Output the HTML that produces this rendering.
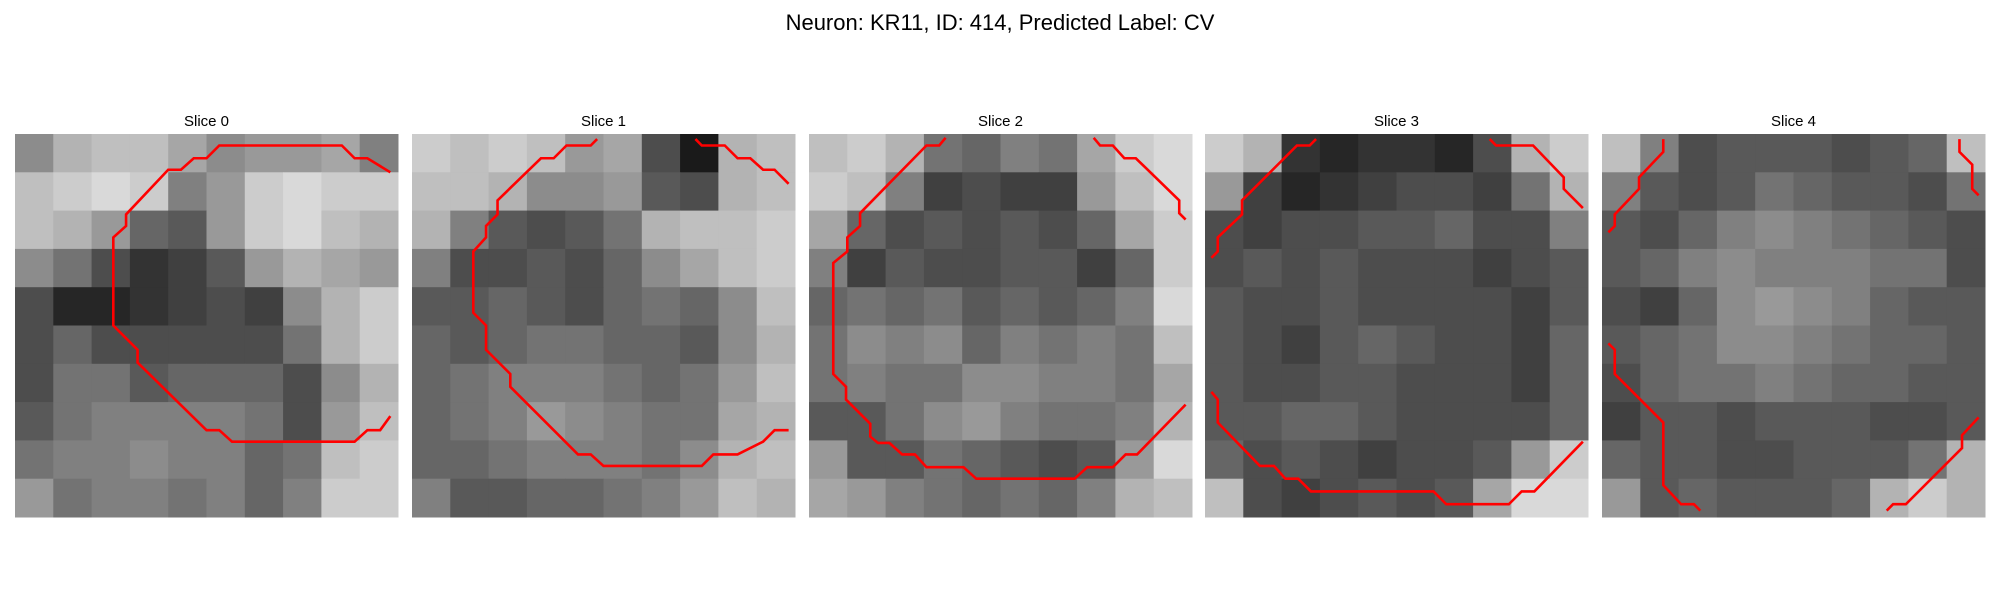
<!DOCTYPE html>
<html><head><meta charset="utf-8"><style>
html,body{margin:0;padding:0;background:#fff;}
svg{display:block;font-family:"Liberation Sans","DejaVu Sans",sans-serif;}
</style></head><body>
<svg id="fig" width="2000" height="600" viewBox="0 0 2000 600">
<text x="1000" y="30" text-anchor="middle" font-size="22" fill="#000">Neuron: KR11, ID: 414, Predicted Label: CV</text>
</svg>
<script>
const sliceTitles = ["Slice 0","Slice 1","Slice 2","Slice 3","Slice 4"];
const tones0 = [
[0.55,0.7,0.75,0.75,0.65,0.55,0.6,0.6,0.65,0.5],
[0.75,0.8,0.85,0.8,0.5,0.6,0.8,0.85,0.8,0.8],
[0.75,0.7,0.6,0.4,0.35,0.6,0.8,0.85,0.75,0.7],
[0.55,0.45,0.3,0.2,0.25,0.35,0.6,0.7,0.65,0.6],
[0.3,0.15,0.15,0.2,0.25,0.3,0.25,0.55,0.7,0.8],
[0.3,0.4,0.3,0.3,0.3,0.3,0.3,0.45,0.7,0.8],
[0.3,0.45,0.45,0.35,0.4,0.4,0.4,0.3,0.55,0.7],
[0.35,0.45,0.5,0.5,0.5,0.5,0.45,0.3,0.6,0.75],
[0.45,0.5,0.5,0.55,0.5,0.5,0.4,0.45,0.75,0.8],
[0.6,0.45,0.5,0.5,0.45,0.5,0.4,0.5,0.8,0.8]];
const tones1 = [
[0.8,0.75,0.8,0.75,0.6,0.65,0.3,0.1,0.7,0.75],
[0.75,0.75,0.7,0.55,0.55,0.6,0.35,0.3,0.7,0.75],
[0.7,0.5,0.35,0.3,0.35,0.45,0.7,0.75,0.75,0.8],
[0.5,0.3,0.3,0.35,0.3,0.4,0.55,0.65,0.75,0.8],
[0.35,0.35,0.4,0.35,0.3,0.4,0.45,0.4,0.55,0.75],
[0.4,0.35,0.4,0.45,0.45,0.4,0.4,0.35,0.55,0.7],
[0.4,0.45,0.5,0.5,0.5,0.45,0.4,0.45,0.6,0.75],
[0.4,0.45,0.5,0.6,0.55,0.5,0.45,0.45,0.65,0.7],
[0.4,0.4,0.45,0.5,0.5,0.5,0.45,0.55,0.7,0.75],
[0.5,0.35,0.35,0.4,0.4,0.45,0.5,0.6,0.75,0.7]];
const tones2 = [
[0.75,0.8,0.7,0.45,0.4,0.5,0.45,0.65,0.8,0.85],
[0.8,0.75,0.5,0.25,0.3,0.25,0.25,0.6,0.75,0.85],
[0.65,0.4,0.3,0.35,0.3,0.35,0.3,0.4,0.65,0.8],
[0.5,0.25,0.35,0.3,0.3,0.35,0.35,0.25,0.4,0.8],
[0.4,0.45,0.4,0.45,0.35,0.4,0.35,0.4,0.5,0.85],
[0.45,0.55,0.5,0.55,0.4,0.5,0.45,0.5,0.45,0.75],
[0.45,0.5,0.45,0.45,0.55,0.55,0.5,0.5,0.45,0.65],
[0.35,0.35,0.45,0.55,0.6,0.5,0.45,0.45,0.5,0.7],
[0.6,0.35,0.35,0.45,0.4,0.35,0.3,0.35,0.6,0.85],
[0.65,0.6,0.5,0.45,0.4,0.45,0.4,0.5,0.7,0.75]];
const tones3 = [
[0.8,0.7,0.2,0.15,0.2,0.2,0.15,0.3,0.7,0.8],
[0.6,0.25,0.15,0.2,0.25,0.3,0.3,0.25,0.45,0.7],
[0.3,0.25,0.3,0.3,0.35,0.35,0.4,0.3,0.3,0.5],
[0.3,0.35,0.3,0.35,0.3,0.3,0.3,0.25,0.3,0.35],
[0.35,0.3,0.3,0.35,0.3,0.3,0.3,0.3,0.25,0.35],
[0.35,0.3,0.25,0.35,0.4,0.35,0.3,0.3,0.25,0.4],
[0.35,0.3,0.3,0.35,0.35,0.3,0.3,0.3,0.25,0.4],
[0.35,0.35,0.4,0.4,0.35,0.3,0.3,0.3,0.3,0.4],
[0.4,0.3,0.35,0.3,0.25,0.3,0.3,0.35,0.6,0.8],
[0.75,0.3,0.25,0.3,0.35,0.3,0.35,0.65,0.85,0.85]];
const tones4 = [
[0.75,0.5,0.3,0.35,0.35,0.35,0.3,0.35,0.4,0.75],
[0.5,0.35,0.3,0.35,0.45,0.4,0.35,0.35,0.3,0.45],
[0.35,0.3,0.4,0.5,0.55,0.5,0.45,0.4,0.35,0.3],
[0.35,0.4,0.5,0.55,0.5,0.5,0.5,0.45,0.45,0.3],
[0.3,0.25,0.4,0.55,0.6,0.55,0.5,0.4,0.35,0.35],
[0.35,0.4,0.45,0.55,0.55,0.5,0.45,0.4,0.4,0.35],
[0.3,0.4,0.45,0.45,0.5,0.45,0.4,0.4,0.35,0.35],
[0.25,0.35,0.35,0.3,0.35,0.35,0.35,0.3,0.3,0.35],
[0.4,0.35,0.35,0.3,0.3,0.35,0.35,0.35,0.45,0.7],
[0.6,0.35,0.4,0.35,0.35,0.35,0.4,0.7,0.8,0.7]];
const contours0 = [[[29.4,3],[27.6,1.9],[26.6,1.9],[25.6,0.9],[16,0.9],[15,1.9],[14,1.9],[13,2.8],[12,2.8],[8.7,6.3],[8.7,7.2],[7.7,8.1],[7.7,15],[9.6,16.9],[9.6,17.9],[15,23.2],[16,23.2],[17,24.1],[26.6,24.1],[27.6,23.2],[28.6,23.2],[29.4,22.1]]];
const contours1 = [
[[14.5,0.4],[14,0.9],[12.1,0.9],[11.1,1.9],[10.1,1.9],[6.7,5.2],[6.7,6.3],[5.8,7.2],[5.8,8.1],[4.8,9.2],[4.8,14],[5.8,15],[5.8,16.9],[7.7,18.8],[7.7,19.8],[13,25.1],[14,25.1],[15,26],[22.7,26],[23.6,25.1],[25.5,25.1],[27.5,24.1],[28.4,23.2],[29.5,23.2]],
[[22.2,0.4],[22.7,0.9],[24.5,0.9],[25.5,1.9],[26.5,1.9],[27.5,2.8],[28.4,2.8],[29.5,3.9]]];
const contours2 = [
[[10.7,0.3],[10.2,0.9],[9.2,0.9],[4,6.2],[4,7.2],[3,8.1],[3,9.2],[1.9,10.1],[1.9,18.8],[2.9,19.8],[2.9,20.8],[4.8,22.7],[4.8,23.7],[5.4,24.2],[6.3,24.2],[7.3,25.1],[8.3,25.1],[9.2,26.1],[12.1,26.1],[13.1,27],[20.8,27],[21.8,26.1],[23.8,26.1],[24.8,25.1],[25.7,25.1],[29.5,21.2]],
[[22.3,0.3],[22.8,0.9],[23.8,0.9],[24.7,1.9],[25.6,1.9],[29,5.2],[29,6.2],[29.5,6.7]]];
const contours3 = [
[[8.7,0.4],[8.2,0.9],[7.2,0.9],[2.9,5.2],[2.9,6.3],[1,8.1],[1,9.2],[0.5,9.7]],
[[22.3,0.4],[22.8,0.9],[25.7,0.9],[28.1,3.4],[28.1,4.3],[29.6,5.8]],
[[0.5,20.2],[1,20.8],[1,22.6],[4.3,26],[5.4,26],[6.3,27],[7.3,27],[8.3,28],[17.9,28],[18.9,29],[23.8,29],[24.8,28],[25.8,28],[29.6,24.1]]];
const contours4 = [
[[4.8,0.4],[4.8,1.4],[2.9,3.4],[2.9,4.3],[1,6.3],[1,7.2],[0.5,7.7]],
[[28,0.4],[28,1.4],[29,2.4],[29,4.3],[29.5,4.8]],
[[0.5,16.4],[1,16.9],[1,18.8],[4.8,22.6],[4.8,27.5],[6.2,29],[7.2,29],[7.7,29.5]],
[[29.5,22.2],[28.2,23.6],[28.2,24.6],[23.8,29],[22.8,29],[22.3,29.5]]];
const allTones=[tones0,tones1,tones2,tones3,tones4];
const allContours=[contours0,contours1,contours2,contours3,contours4];
const NS="http://www.w3.org/2000/svg";
const svg=document.getElementById('fig');
const panelLeft=[15,412,809,1205,1602], panelTop=134, panelSize=383, gridUnits=30;
function sx(p,u){return panelLeft[p]+u/gridUnits*panelSize;}
function sy(u){return panelTop+u/gridUnits*panelSize;}
function gray(v){const c=Math.round(v*255);return `rgb(${c},${c},${c})`;}
allTones.forEach((tones,p)=>{
  const g=document.createElementNS(NS,'g');
  
  
  svg.appendChild(g);
  const t=document.createElementNS(NS,'text');
  t.setAttribute('x',panelLeft[p]+panelSize/2);t.setAttribute('y',126);
  t.setAttribute('text-anchor','middle');t.setAttribute('font-size','15');
  t.textContent=sliceTitles[p];
  
  
  g.appendChild(t);
  const n=tones.length, cw=gridUnits/n;
  tones.forEach((row,r)=>row.forEach((v,c)=>{
    const rc=document.createElementNS(NS,'rect');
    const x0=sx(p,c*cw), x1=sx(p,(c+1)*cw), y0=sy(r*cw), y1=sy((r+1)*cw);
    rc.setAttribute('x',x0);rc.setAttribute('y',y0);
    rc.setAttribute('width',x1-x0+0.5);rc.setAttribute('height',y1-y0+0.5);
    rc.setAttribute('fill',gray(v));
    
    
    g.appendChild(rc);
  }));
  allContours[p].forEach((line,i)=>{
    const pl=document.createElementNS(NS,'polyline');
    pl.setAttribute('points',line.map(pt=>sx(p,pt[0])+','+sy(pt[1])).join(' '));
    pl.setAttribute('fill','none');pl.setAttribute('stroke','#ff0000');
    pl.setAttribute('stroke-width','2.6');
    
    
    g.appendChild(pl);
  });
});
</script>
</body></html>
